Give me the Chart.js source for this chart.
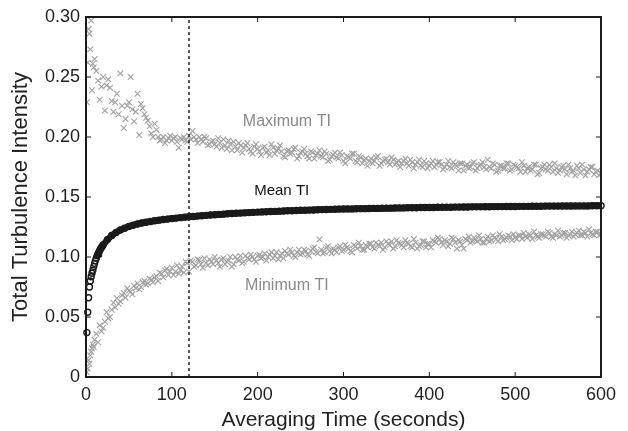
<!DOCTYPE html>
<html>
<head>
<meta charset="utf-8">
<script src="https://cdn.jsdelivr.net/npm/chart.js@4.4.1/dist/chart.umd.min.js"></script>
<style>
  html, body { margin: 0; padding: 0; background: #fff; }
  canvas { display: block; }
</style>
</head>
<body>
<canvas id="tiChart" width="628" height="431"></canvas>
<script>
// sample times (s) for the max / min crosses, first set
const crossTimeA = [
  1, 2, 3, 4, 5, 6, 7, 8, 9, 10,
  12, 16, 20, 24, 28, 32, 36, 40, 44, 48,
  52, 56, 60, 64, 68, 72, 76, 80, 84, 88,
  92, 96, 100, 104, 108, 112, 116, 120, 124, 128,
  132, 136, 140, 144, 148, 152, 156, 160, 164, 168,
  172, 176, 180, 184, 188, 192, 196, 200, 204, 208,
  212, 216, 220, 224, 228, 232, 236, 240, 244, 248,
  252, 256, 260, 264, 268, 272, 276, 280, 284, 288,
  292, 296, 300, 304, 308, 312, 316, 320, 324, 328,
  332, 336, 340, 344, 348, 352, 356, 360, 364, 368,
  372, 376, 380, 384, 388, 392, 396, 400, 404, 408,
  412, 416, 420, 424, 428, 432, 436, 440, 444, 448,
  452, 456, 460, 464, 468, 472, 476, 480, 484, 488,
  492, 496, 500, 504, 508, 512, 516, 520, 524, 528,
  532, 536, 540, 544, 548, 552, 556, 560, 564, 568,
  572, 576, 580, 584, 588, 592, 596, 600
];

const maxTIa = [
  0.229, 0.262, 0.290, 0.286, 0.273, 0.297, 0.239, 0.261, 0.258, 0.265,
  0.255, 0.231, 0.250, 0.243, 0.241, 0.221, 0.236, 0.253, 0.2075, 0.226,
  0.250, 0.213, 0.236, 0.2275, 0.219, 0.2136, 0.203, 0.211, 0.200, 0.198,
  0.195, 0.199, 0.197, 0.200, 0.191, 0.198, 0.197, 0.201, 0.205, 0.198,
  0.200, 0.196, 0.199, 0.194, 0.197, 0.192, 0.195, 0.198, 0.190, 0.194,
  0.196, 0.189, 0.193, 0.191, 0.195, 0.188, 0.192, 0.190, 0.185, 0.192,
  0.189, 0.194, 0.186, 0.190, 0.188, 0.183, 0.189, 0.187, 0.191, 0.184,
  0.188, 0.186, 0.182, 0.187, 0.185, 0.189, 0.183, 0.186, 0.181, 0.185,
  0.183, 0.187, 0.180, 0.184, 0.182, 0.186, 0.179, 0.183, 0.181, 0.176,
  0.182, 0.180, 0.184, 0.178, 0.181, 0.179, 0.183, 0.177, 0.180, 0.178,
  0.182, 0.176, 0.179, 0.177, 0.181, 0.175, 0.178, 0.176, 0.180, 0.177,
  0.179, 0.173, 0.177, 0.175, 0.179, 0.176, 0.178, 0.172, 0.177, 0.175,
  0.179, 0.174, 0.177, 0.175, 0.181, 0.174, 0.177, 0.172, 0.176, 0.174,
  0.178, 0.173, 0.176, 0.174, 0.179, 0.171, 0.175, 0.173, 0.177, 0.170,
  0.175, 0.173, 0.177, 0.171, 0.174, 0.172, 0.176, 0.169, 0.174, 0.172,
  0.176, 0.170, 0.173, 0.171, 0.175, 0.169, 0.172, 0.170
];

const minTIa = [
  0.004, 0.007, 0.014, 0.011, 0.018, 0.021, 0.024, 0.027, 0.025, 0.031,
  0.036, 0.043, 0.041, 0.054, 0.050, 0.062, 0.0656, 0.063, 0.070, 0.074,
  0.071, 0.076, 0.078, 0.075, 0.080, 0.078, 0.081, 0.083, 0.080, 0.086,
  0.089, 0.085, 0.091, 0.0878, 0.086, 0.092, 0.096, 0.0878, 0.096, 0.093,
  0.0975, 0.091, 0.095, 0.098, 0.094, 0.097, 0.092, 0.099, 0.096, 0.100,
  0.094, 0.098, 0.101, 0.096, 0.099, 0.102, 0.098, 0.101, 0.099, 0.103,
  0.100, 0.104, 0.101, 0.098, 0.103, 0.105, 0.102, 0.104, 0.100, 0.106,
  0.103, 0.105, 0.101, 0.107, 0.104, 0.1147, 0.103, 0.108, 0.105, 0.107,
  0.104, 0.109, 0.106, 0.108, 0.105, 0.110, 0.107, 0.109, 0.106, 0.108,
  0.111, 0.107, 0.110, 0.112, 0.108, 0.111, 0.113, 0.109, 0.112, 0.110,
  0.114, 0.111, 0.108, 0.112, 0.109, 0.113, 0.108, 0.111, 0.114, 0.112,
  0.115, 0.110, 0.113, 0.111, 0.115, 0.107, 0.113, 0.107, 0.114, 0.112,
  0.116, 0.113, 0.115, 0.112, 0.117, 0.114, 0.116, 0.113, 0.117, 0.115,
  0.118, 0.114, 0.116, 0.118, 0.115, 0.117, 0.119, 0.115, 0.118, 0.116,
  0.119, 0.117, 0.120, 0.116, 0.118, 0.117, 0.120, 0.116, 0.119, 0.117,
  0.120, 0.118, 0.121, 0.117, 0.120, 0.118, 0.121, 0.119
];

// second set of cross samples, in between the first
const crossTimeB = [
  14, 18, 22, 26, 30, 34, 38, 42, 46, 50,
  54, 58, 62, 66, 70, 74, 78, 82, 86, 90,
  94, 98, 102, 106, 110, 114, 118, 122, 126, 130,
  134, 138, 142, 146, 150, 154, 158, 162, 166, 170,
  174, 178, 182, 186, 190, 194, 198, 202, 206, 210,
  214, 218, 222, 226, 230, 234, 238, 242, 246, 250,
  254, 258, 262, 266, 270, 274, 278, 282, 286, 290,
  294, 298, 302, 306, 310, 314, 318, 322, 326, 330,
  334, 338, 342, 346, 350, 354, 358, 362, 366, 370,
  374, 378, 382, 386, 390, 394, 398, 402, 406, 410,
  414, 418, 422, 426, 430, 434, 438, 442, 446, 450,
  454, 458, 462, 466, 470, 474, 478, 482, 486, 490,
  494, 498, 502, 506, 510, 514, 518, 522, 526, 530,
  534, 538, 542, 546, 550, 554, 558, 562, 566, 570,
  574, 578, 582, 586, 590, 594, 598
];

const maxTIb = [
  0.247, 0.242, 0.222, 0.248, 0.230, 0.229, 0.219, 0.226, 0.215, 0.229,
  0.223, 0.221, 0.2017, 0.224, 0.216, 0.209, 0.200, 0.206, 0.197, 0.200,
  0.197, 0.201, 0.199, 0.196, 0.199, 0.200, 0.196, 0.198, 0.200, 0.195,
  0.198, 0.200, 0.193, 0.196, 0.194, 0.199, 0.191, 0.193, 0.197, 0.189,
  0.192, 0.195, 0.187, 0.193, 0.190, 0.186, 0.194, 0.188, 0.191, 0.187,
  0.185, 0.191, 0.189, 0.193, 0.184, 0.188, 0.186, 0.190, 0.182, 0.187,
  0.190, 0.184, 0.188, 0.182, 0.186, 0.184, 0.188, 0.180, 0.184, 0.187,
  0.182, 0.185, 0.178, 0.183, 0.186, 0.180, 0.184, 0.178, 0.182, 0.180,
  0.178, 0.183, 0.176, 0.180, 0.182, 0.177, 0.181, 0.179, 0.175, 0.180,
  0.178, 0.181, 0.174, 0.179, 0.176, 0.180, 0.174, 0.178, 0.175, 0.179,
  0.177, 0.175, 0.180, 0.174, 0.177, 0.172, 0.178, 0.176, 0.174, 0.178,
  0.172, 0.176, 0.179, 0.173, 0.175, 0.178, 0.171, 0.176, 0.174, 0.178,
  0.172, 0.177, 0.175, 0.171, 0.176, 0.174, 0.172, 0.177, 0.169, 0.174,
  0.177, 0.172, 0.175, 0.178, 0.170, 0.175, 0.173, 0.177, 0.171, 0.168,
  0.174, 0.177, 0.168, 0.173, 0.175, 0.171, 0.168
];

const minTIb = [
  0.029, 0.038, 0.046, 0.049, 0.056, 0.058, 0.061, 0.068, 0.066, 0.072,
  0.069, 0.074, 0.073, 0.079, 0.077, 0.082, 0.079, 0.084, 0.087, 0.083,
  0.090, 0.088, 0.085, 0.093, 0.089, 0.087, 0.095, 0.097, 0.092, 0.098,
  0.094, 0.099, 0.093, 0.096, 0.100, 0.095, 0.098, 0.094, 0.097, 0.092,
  0.100, 0.097, 0.095, 0.101, 0.098, 0.100, 0.096, 0.102, 0.100, 0.097,
  0.102, 0.099, 0.104, 0.101, 0.099, 0.103, 0.106, 0.101, 0.104, 0.102,
  0.106, 0.102, 0.105, 0.108, 0.103, 0.106, 0.104, 0.109, 0.103, 0.106,
  0.108, 0.105, 0.110, 0.107, 0.104, 0.109, 0.112, 0.106, 0.110, 0.111,
  0.108, 0.112, 0.109, 0.106, 0.113, 0.110, 0.107, 0.114, 0.111, 0.108,
  0.112, 0.109, 0.115, 0.107, 0.110, 0.113, 0.111, 0.108, 0.113, 0.116,
  0.112, 0.114, 0.109, 0.116, 0.112, 0.114, 0.110, 0.115, 0.117, 0.113,
  0.114, 0.118, 0.112, 0.115, 0.113, 0.118, 0.115, 0.119, 0.114, 0.116,
  0.117, 0.119, 0.115, 0.118, 0.120, 0.116, 0.118, 0.121, 0.117, 0.119,
  0.118, 0.121, 0.117, 0.119, 0.122, 0.118, 0.120, 0.118, 0.121, 0.119,
  0.122, 0.118, 0.120, 0.123, 0.119, 0.121, 0.118
];

const meanTime = [
  1, 2, 3, 4, 5, 6, 7, 8, 9, 10,
  11, 12, 13, 14, 15, 16, 17, 18, 19, 20,
  25, 30, 35, 40, 45, 50, 55, 60, 65, 70,
  75, 80, 85, 90, 95, 100, 105, 110, 115, 120,
  125, 130, 135, 140, 145, 150, 155, 160, 165, 170,
  175, 180, 185, 190, 195, 200, 205, 210, 215, 220,
  225, 230, 235, 240, 245, 250, 255, 260, 265, 270,
  275, 280, 285, 290, 295, 300, 305, 310, 315, 320,
  325, 330, 335, 340, 345, 350, 355, 360, 365, 370,
  375, 380, 385, 390, 395, 400, 405, 410, 415, 420,
  425, 430, 435, 440, 445, 450, 455, 460, 465, 470,
  475, 480, 485, 490, 495, 500, 505, 510, 515, 520,
  525, 530, 535, 540, 545, 550, 555, 560, 565, 570,
  575, 580, 585, 590, 595, 600
];

const meanTI = [
  0.037, 0.054, 0.066, 0.075, 0.080, 0.0836, 0.0864, 0.089, 0.092, 0.0947,
  0.097, 0.099, 0.101, 0.1025, 0.104, 0.1055, 0.1068, 0.108, 0.109, 0.110,
  0.1145, 0.118, 0.1205, 0.1225, 0.124, 0.1255, 0.1265, 0.1275, 0.1283, 0.129,
  0.1296, 0.1302, 0.1307, 0.1312, 0.1316, 0.132, 0.1324, 0.1328, 0.1332, 0.1335,
  0.1338, 0.1341, 0.1344, 0.1347, 0.135, 0.1352, 0.1355, 0.1357, 0.136, 0.1362,
  0.1364, 0.1366, 0.1368, 0.137, 0.1372, 0.1374, 0.1376, 0.1377, 0.1379, 0.138,
  0.1382, 0.1383, 0.1385, 0.1386, 0.1387, 0.1389, 0.139, 0.1391, 0.1392, 0.1394,
  0.1395, 0.1396, 0.1397, 0.1398, 0.1399, 0.140, 0.1401, 0.1401, 0.1402, 0.1403,
  0.1403, 0.1404, 0.1405, 0.1405, 0.1406, 0.1407, 0.1407, 0.1408, 0.1409, 0.1409,
  0.141, 0.141, 0.1411, 0.1412, 0.1412, 0.1413, 0.1413, 0.1414, 0.1414, 0.1415,
  0.1415, 0.1416, 0.1416, 0.1417, 0.1417, 0.1418, 0.1418, 0.1418, 0.1419, 0.1419,
  0.142, 0.142, 0.142, 0.1421, 0.1421, 0.1421, 0.1422, 0.1422, 0.1422, 0.1423,
  0.1423, 0.1423, 0.1424, 0.1424, 0.1424, 0.1424, 0.1425, 0.1425, 0.1425, 0.1426,
  0.1426, 0.1426, 0.1426, 0.1427, 0.1427, 0.1427
];

const xTicks = [0, 100, 200, 300, 400, 500, 600];
const yTicks = [0, 0.05, 0.10, 0.15, 0.20, 0.25, 0.30];
const cutoffTime = 120; // dashed marker

const FONT = "'Liberation Sans', Arial, Helvetica, sans-serif";
const CROSS_GREY = '#a0a0a0';

// in-plot labels, placed in data units
const seriesNotes = [
  { text: 'Maximum TI', x: 234, y: 0.2125, color: '#8a8a8a', size: 16 },
  { text: 'Mean TI',    x: 228, y: 0.155,  color: '#111111', size: 15 },
  { text: 'Minimum TI', x: 234, y: 0.0765, color: '#8a8a8a', size: 16 }
];

function toPoints(xs, ys) {
  return xs.map((t, i) => ({ x: t, y: ys[i] }));
}

function crossSet(label, xs, ys) {
  return {
    label: label,
    data: toPoints(xs, ys),
    pointStyle: 'crossRot',
    pointRadius: 4,
    borderColor: CROSS_GREY,
    backgroundColor: CROSS_GREY,
    borderWidth: 1.1
  };
}

// box, inward ticks on all sides, dashed line and the series notes
const framePlugin = {
  id: 'framePlugin',
  afterDatasetsDraw(chart) {
    const { ctx, chartArea: a, scales: { x, y } } = chart;
    const seg = (x1, y1, x2, y2) => {
      ctx.beginPath(); ctx.moveTo(x1, y1); ctx.lineTo(x2, y2); ctx.stroke();
    };
    ctx.save();

    const cx = x.getPixelForValue(cutoffTime);
    ctx.strokeStyle = '#222';
    ctx.lineWidth = 1.5;
    ctx.setLineDash([3, 3]);
    seg(cx, a.bottom, cx, a.top);
    ctx.setLineDash([]);

    ctx.strokeStyle = '#1a1a1a';
    ctx.lineWidth = 1;
    xTicks.forEach(v => {
      const px = x.getPixelForValue(v);
      seg(px, a.bottom, px, a.bottom - 5);
      seg(px, a.top, px, a.top + 5);
    });
    yTicks.forEach(v => {
      const py = y.getPixelForValue(v);
      seg(a.left, py, a.left + 5, py);
      seg(a.right, py, a.right - 5, py);
    });

    ctx.lineWidth = 2;
    ctx.strokeRect(a.left, a.top, a.right - a.left, a.bottom - a.top);

    ctx.textAlign = 'center';
    ctx.textBaseline = 'middle';
    seriesNotes.forEach(n => {
      ctx.fillStyle = n.color;
      ctx.font = n.size + 'px ' + FONT;
      ctx.fillText(n.text, x.getPixelForValue(n.x), y.getPixelForValue(n.y));
    });
    ctx.restore();
  }
};

new Chart(document.getElementById('tiChart'), {
  type: 'scatter',
  data: {
    datasets: [
      crossSet('Maximum TI', crossTimeA, maxTIa),
      crossSet('Maximum TI', crossTimeB, maxTIb),
      crossSet('Minimum TI', crossTimeA, minTIa),
      crossSet('Minimum TI', crossTimeB, minTIb),
      {
        label: 'Mean TI',
        data: toPoints(meanTime, meanTI),
        showLine: true,
        tension: 0,
        borderWidth: 6.5,
        borderColor: '#1a1a1a',
        // the dense circles merge into a solid band after the first seconds
        segment: { borderColor: c => (c.p0.parsed.x < 12 ? 'rgba(0,0,0,0)' : '#1a1a1a') },
        pointStyle: 'circle',
        pointRadius: 3,
        pointBorderWidth: 1.4,
        pointBorderColor: '#1a1a1a',
        pointBackgroundColor: 'rgba(0,0,0,0)',
        clip: false
      }
    ]
  },
  options: {
    responsive: false,
    animation: false,
    devicePixelRatio: 1,
    events: [],
    layout: { padding: { top: 17, right: 27, left: 0, bottom: 0 } },
    plugins: { legend: { display: false }, tooltip: { enabled: false } },
    scales: {
      x: {
        type: 'linear',
        min: 0,
        max: 600,
        afterBuildTicks: s => { s.ticks = xTicks.map(v => ({ value: v })); },
        afterFit: s => { s.height = 54; },
        grid: { display: false, drawTicks: false },
        border: { display: false },
        ticks: { padding: 7, maxRotation: 0, color: '#222', font: { family: FONT, size: 18 } },
        title: {
          display: true,
          text: 'Averaging Time (seconds)',
          color: '#222',
          font: { family: FONT, size: 21 },
          padding: { top: 0, bottom: -2 }
        }
      },
      y: {
        type: 'linear',
        min: 0,
        max: 0.3,
        afterBuildTicks: s => { s.ticks = yTicks.map(v => ({ value: v })); },
        afterFit: s => { s.width = 86; },
        grid: { display: false, drawTicks: false },
        border: { display: false },
        ticks: {
          padding: 6,
          color: '#222',
          font: { family: FONT, size: 18 },
          callback: v => (v === 0 ? '0' : v.toFixed(2))
        },
        title: {
          display: true,
          text: 'Total Turbulence Intensity',
          color: '#222',
          font: { family: FONT, size: 22 },
          padding: { top: 8, bottom: 0 }
        }
      }
    }
  },
  plugins: [framePlugin]
});
</script>
</body>
</html>
